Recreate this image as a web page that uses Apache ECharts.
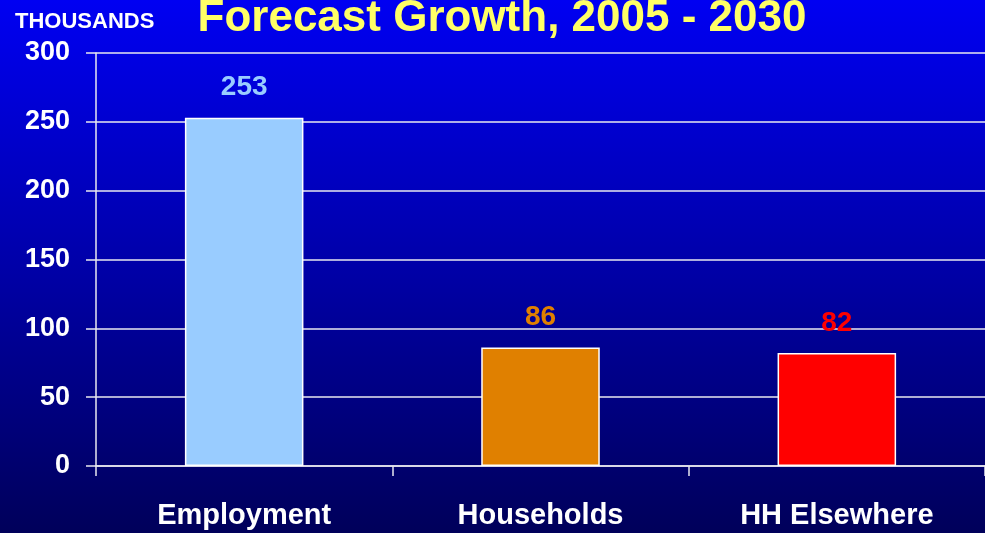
<!DOCTYPE html>
<html>
<head>
<meta charset="utf-8">
<script src="https://cdn.jsdelivr.net/npm/echarts@6/dist/echarts.min.js"></script>
<style>
  html, body { margin: 0; padding: 0; }
  #chart { width: 985px; height: 533px; }
</style>
</head>
<body>
<div id="chart"></div>
<script>
// Forecast growth figures, in thousands
const categories = ['Employment', 'Households', 'HH Elsewhere'];
const growthValues = [253, 86, 82];
const barColors = ['#99ccff', '#e08000', '#ff0000'];
const yTicks = { min: 0, max: 300, interval: 50 };

const FONT = '"Liberation Sans", Arial, sans-serif';

const chart = echarts.init(document.getElementById('chart'));
chart.setOption({
  animation: false,
  backgroundColor: {
    type: 'linear', x: 0, y: 0, x2: 0, y2: 1,
    colorStops: [
      { offset: 0, color: '#0000f2' },
      { offset: 0.5, color: '#0000a8' },
      { offset: 1, color: '#00005a' }
    ]
  },
  title: [
    {
      text: 'Forecast Growth, 2005 - 2030',
      left: 497, top: -8, textAlign: 'center',
      textStyle: { color: '#ffff66', fontSize: 44, fontWeight: 'bold', fontFamily: FONT }
    },
    {
      text: 'THOUSANDS',
      left: 10, top: 6,
      textStyle: { color: '#ffffff', fontSize: 22, fontWeight: 'bold', fontFamily: FONT }
    }
  ],
  grid: { left: 96, right: -6, top: 53, bottom: 67, containLabel: false },
  xAxis: {
    type: 'category',
    data: categories,
    axisLine: { show: true, lineStyle: { color: '#e8e8f0', width: 1.5 } },
    axisTick: { show: true, length: 10, lineStyle: { color: '#e8e8f0', width: 1.5 } },
    axisLabel: {
      color: '#ffffff', fontSize: 29, fontWeight: 'bold', fontFamily: FONT, margin: 35
    }
  },
  yAxis: {
    type: 'value',
    min: yTicks.min, max: yTicks.max, interval: yTicks.interval,
    axisLine: { show: true, lineStyle: { color: '#e8e8f0', width: 1.5 } },
    axisTick: { show: true, length: 10, lineStyle: { color: '#e8e8f0', width: 1.5 } },
    splitLine: { show: true, lineStyle: { color: '#e8e8f0', width: 1.5 } },
    axisLabel: {
      color: '#ffffff', fontSize: 27, fontWeight: 'bold', fontFamily: FONT, margin: 26
    }
  },
  series: [{
    type: 'bar',
    barWidth: '40%',
    data: growthValues.map((v, i) => ({
      value: v,
      itemStyle: { color: barColors[i] },
      label: { color: barColors[i] }
    })),
    itemStyle: { borderColor: '#ffffff', borderWidth: 1.5 },
    label: {
      show: true, position: 'top', distance: 16,
      fontSize: 28, fontWeight: 'bold', fontFamily: FONT
    }
  }]
});
</script>
</body>
</html>
